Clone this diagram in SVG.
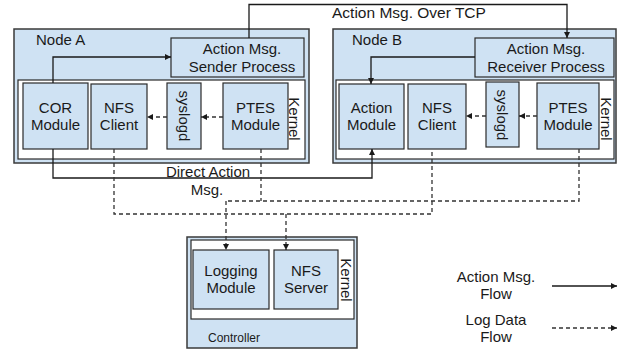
<svg xmlns="http://www.w3.org/2000/svg" width="626" height="349" viewBox="0 0 626 349">
  <style>
    text { font-family: "Liberation Sans", Arial, sans-serif; font-size: 15px; fill: #1a1a1a; }
    .mid { text-anchor: middle; }
    .vert { text-anchor: middle; dominant-baseline: central; }
    .node { fill: #cfe2f3; stroke: #3a3a3a; stroke-width: 1.5; }
    .kernel { fill: #ffffff; stroke: #2a2a2a; stroke-width: 1.2; }
    .box { fill: #cfe2f3; stroke: #2a2a2a; stroke-width: 1.2; }
    .solid { fill: none; stroke: #1a1a1a; stroke-width: 1.3; marker-end: url(#arrow); }
    .dash { fill: none; stroke: #333; stroke-width: 1.3; stroke-dasharray: 4 3; }
    .dash-arrow { fill: none; stroke: #333; stroke-width: 1.3; stroke-dasharray: 4 3; marker-end: url(#arrow); }
    .small { font-size: 12px; }
  </style>
  <defs>
    <marker id="arrow" viewBox="0 0 10 10" refX="10" refY="5" markerUnits="userSpaceOnUse" markerWidth="7" markerHeight="6" orient="auto">
      <path d="M0,0 L10,5 L0,10 z" fill="#1a1a1a"/>
    </marker>
  </defs>

  <rect width="626" height="349" fill="#ffffff"/>

  <!-- Node A -->
  <g id="node-a">
    <rect class="node" x="14" y="29" width="295" height="134"/>
    <text x="36" y="45">Node A</text>
    <rect class="kernel" x="18" y="80" width="287" height="79"/>
    <text class="vert" transform="translate(294,119) rotate(90)">Kernel</text>
  </g>
  <g id="sender-a">
    <rect class="box" x="171" y="38" width="133" height="39"/>
    <text class="mid" x="242" y="54">Action Msg.</text>
    <text class="mid" x="242" y="72">Sender Process</text>
  </g>
  <g id="cor-a">
    <rect class="box" x="23" y="83" width="65" height="66"/>
    <text class="mid" x="55.5" y="113">COR</text>
    <text class="mid" x="55.5" y="130">Module</text>
  </g>
  <g id="nfsclient-a">
    <rect class="box" x="91" y="84" width="56" height="65"/>
    <text class="mid" x="119" y="113">NFS</text>
    <text class="mid" x="119" y="130">Client</text>
  </g>
  <g id="syslogd-a">
    <rect class="box" x="167" y="83" width="34" height="66"/>
    <text class="vert" transform="translate(184,116) rotate(90)">syslogd</text>
  </g>
  <g id="ptes-a">
    <rect class="box" x="223" y="83" width="65" height="66"/>
    <text class="mid" x="255.5" y="113">PTES</text>
    <text class="mid" x="255.5" y="130">Module</text>
  </g>

  <!-- Node B -->
  <g id="node-b">
    <rect class="node" x="333" y="29" width="283" height="134"/>
    <text x="352" y="45">Node B</text>
    <rect class="kernel" x="336" y="80" width="278" height="79"/>
    <text class="vert" transform="translate(606,119) rotate(90)">Kernel</text>
  </g>
  <g id="receiver-b">
    <rect class="box" x="475" y="38" width="139" height="39"/>
    <text class="mid" x="546" y="54">Action Msg.</text>
    <text class="mid" x="546" y="72">Receiver Process</text>
  </g>
  <g id="action-b">
    <rect class="box" x="339" y="84" width="65" height="65"/>
    <text class="mid" x="371.5" y="113">Action</text>
    <text class="mid" x="371.5" y="130">Module</text>
  </g>
  <g id="nfsclient-b">
    <rect class="box" x="408" y="84" width="58" height="65"/>
    <text class="mid" x="437" y="113">NFS</text>
    <text class="mid" x="437" y="130">Client</text>
  </g>
  <g id="syslogd-b">
    <rect class="box" x="486" y="82" width="33" height="65"/>
    <text class="vert" transform="translate(502.5,115) rotate(90)">syslogd</text>
  </g>
  <g id="ptes-b">
    <rect class="box" x="537" y="83" width="62" height="66"/>
    <text class="mid" x="568" y="113">PTES</text>
    <text class="mid" x="568" y="130">Module</text>
  </g>

  <!-- Controller -->
  <g id="controller">
    <rect class="node" x="187" y="237" width="170" height="111"/>
    <rect class="kernel" x="191" y="240" width="163" height="79"/>
    <text class="vert" transform="translate(346,280) rotate(90)">Kernel</text>
    <text class="small" x="208" y="342">Controller</text>
  </g>
  <g id="logging">
    <rect class="box" x="193" y="250" width="76" height="59"/>
    <text class="mid" x="231" y="276">Logging</text>
    <text class="mid" x="231" y="293">Module</text>
  </g>
  <g id="nfsserver">
    <rect class="box" x="274" y="250" width="64" height="59"/>
    <text class="mid" x="306" y="276">NFS</text>
    <text class="mid" x="306" y="293">Server</text>
  </g>

  <!-- Connectors -->
  <g id="connectors">
    <!-- action messages -->
    <path class="solid" d="M53,83 V57 H171"/>
    <path class="solid" d="M249,38 V4.5 H567 V38"/>
    <path class="solid" d="M475,57 H371 V84"/>
    <path class="solid" d="M53,149 V178 H372 V149"/>
    <!-- log data inside nodes -->
    <path class="dash-arrow" d="M223,117 H201"/>
    <path class="dash-arrow" d="M167,117 H147"/>
    <path class="dash-arrow" d="M537,116 H519"/>
    <path class="dash-arrow" d="M486,116 H466"/>
    <!-- log data to controller -->
    <path class="dash" d="M261,149 V201"/>
    <path class="dash" d="M579,149 V201 H226"/>
    <path class="dash-arrow" d="M226,201 V250"/>
    <path class="dash" d="M114,149 V214 H432 V149"/>
    <path class="dash-arrow" d="M286,214 V250"/>
  </g>

  <!-- connector labels -->
  <text x="332" y="18" style="font-size:15.5px">Action Msg. Over TCP</text>
  <text class="mid" x="208" y="177">Direct Action</text>
  <text class="mid" x="207" y="195">Msg.</text>

  <!-- Legend -->
  <g id="legend">
    <text class="mid" x="496" y="282">Action Msg.</text>
    <text class="mid" x="496" y="299">Flow</text>
    <path class="solid" d="M552,286 H617"/>
    <text class="mid" x="496" y="325">Log Data</text>
    <text class="mid" x="496" y="342">Flow</text>
    <path class="dash-arrow" d="M552,328 H617"/>
  </g>
</svg>
